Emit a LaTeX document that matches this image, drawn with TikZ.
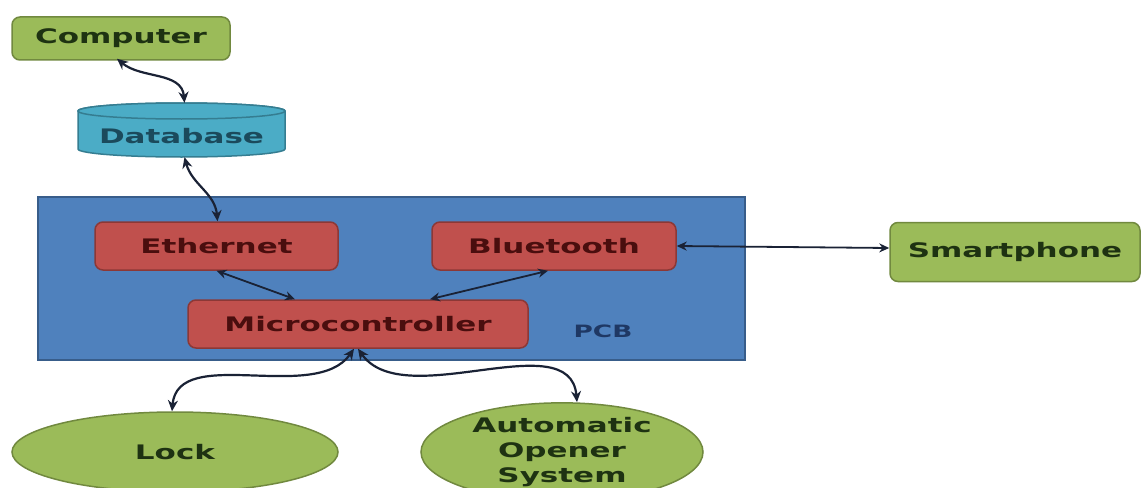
\documentclass[tikz,border=0pt]{standalone}
\usepackage{fontspec}
\newfontfamily\dfont[FakeStretch=1.55]{DejaVu Sans Bold}
\usetikzlibrary{shapes.geometric,arrows.meta}
\definecolor{gfill}{HTML}{9BBB59}
\definecolor{gline}{HTML}{71893F}
\definecolor{gtext}{HTML}{1E3212}
\definecolor{bfill}{HTML}{4BACC6}
\definecolor{bline}{HTML}{357D91}
\definecolor{btext}{HTML}{1B4A5C}
\definecolor{pfill}{HTML}{4F81BD}
\definecolor{pline}{HTML}{385D8A}
\definecolor{ptext}{HTML}{1F3864}
\definecolor{rfill}{HTML}{C0504D}
\definecolor{rline}{HTML}{8C3836}
\definecolor{rtext}{HTML}{4A0E0E}
\definecolor{arrcol}{HTML}{1A2235}
\tikzset{
  txt/.style={font=\dfont\fontsize{20}{24}\selectfont},
  greenbox/.style={txt, rectangle, rounded corners=8, draw=gline, line width=1.5, fill=gfill, text=gtext, inner sep=0},
  redbox/.style={txt, rectangle, rounded corners=8, draw=rline, line width=1.5, fill=rfill, text=rtext, inner sep=0},
  greenell/.style={txt, ellipse, draw=gline, line width=1.5, fill=gfill, text=gtext, inner sep=0, align=center},
  arr/.style={{Stealth[length=11,width=10]}-{Stealth[length=11,width=10]}, line width=2.2, draw=arrcol},
  thinarr/.style={{Stealth[length=10,width=9]}-{Stealth[length=10,width=9]}, line width=1.8, draw=arrcol},
}
\begin{document}
\begin{tikzpicture}[x=1pt,y=-1pt]
\useasboundingbox (0,0) rectangle (1142,487);
\fill[white] (0,0) rectangle (1142,487);

% PCB
\node[rectangle, draw=pline, line width=1.5, fill=pfill, minimum width=707, minimum height=163, inner sep=0] (pcb) at (391.5,278.5) {};
\node[txt, font=\dfont\fontsize{17}{20}\selectfont, text=ptext] (pcblabel) at (603,331) {PCB};

% Computer
\node[greenbox, minimum width=218, minimum height=43] (comp) at (121,38.5) {Computer};

% Database cylinder
\node[txt, text=btext, minimum width=207, minimum height=56, inner sep=0] (db) at (181.5,131) {};
\fill[bfill, draw=bline, line width=1.5]
  (78,111) -- (78,149) arc[start angle=180, end angle=0, x radius=103.5, y radius=8] -- (285,111)
  arc[start angle=0, end angle=-180, x radius=103.5, y radius=8] -- cycle;
\draw[bline, line width=1.5, fill=bfill] (181.5,111) ellipse[x radius=103.5, y radius=8];
\node[txt, text=btext] (dbtext) at (181.5,136) {Database};

% Ethernet, Bluetooth, Microcontroller
\node[redbox, minimum width=243, minimum height=48] (eth) at (216.5,246) {Ethernet};
\node[redbox, minimum width=244, minimum height=48] (bt) at (554,246) {Bluetooth};
\node[redbox, minimum width=340, minimum height=48] (micro) at (358,324) {Microcontroller};

% Smartphone
\node[greenbox, minimum width=250, minimum height=59] (phone) at (1015,252) {Smartphone};

% Ellipses
\node[greenell, minimum width=326, minimum height=80] (lock) at (175,452) {Lock};
\node[greenell, minimum width=282, minimum height=80] (auto) at (562,452) {Automatic\\[1pt]Opener\\[1pt]System};

% connectors
\draw[arr] ([xshift=-4,yshift=2]comp.south) to[out=-40,in=95] ([xshift=3]db.north);
\draw[arr] ([xshift=3,yshift=2]db.south) to[out=-75,in=95] ([xshift=1]eth.north);
\draw[thinarr] (eth.south) -- ([xshift=-63]micro.north);
\draw[thinarr] ([xshift=-6]bt.south) -- ([xshift=72]micro.north);
\draw[thinarr] (bt.east) -- ([yshift=4]phone.west);
\draw[arr] ([xshift=-4]micro.south) to[out=-125,in=85,looseness=0.9] ([xshift=-3]lock.north);
\draw[arr] ([xshift=0]micro.south) to[out=-55,in=95,looseness=0.9] ([xshift=15]auto.north);
\end{tikzpicture}
\end{document}
